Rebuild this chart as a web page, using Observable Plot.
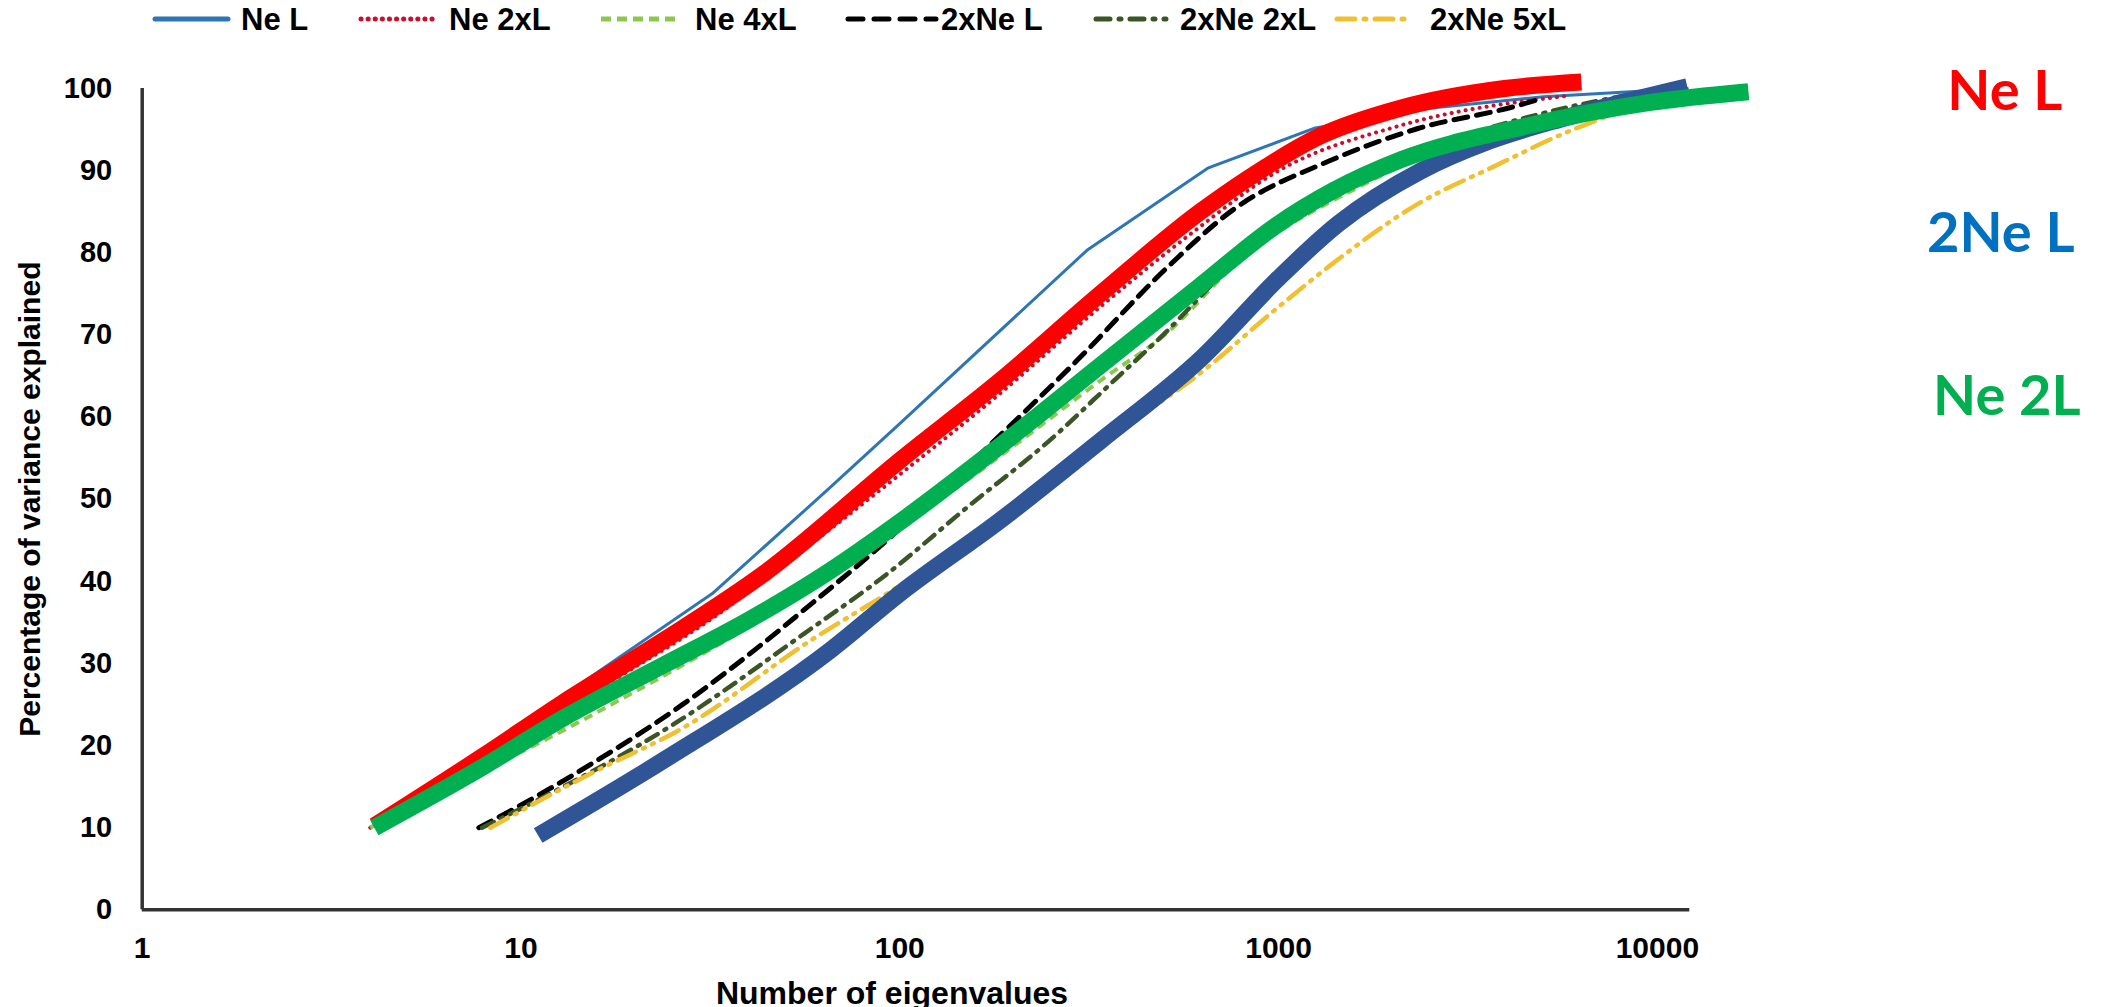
<!DOCTYPE html>
<html>
<head>
<meta charset="utf-8">
<script src="https://cdn.jsdelivr.net/npm/d3@7"></script>
<script src="https://cdn.jsdelivr.net/npm/@observablehq/plot@0.6"></script>
<style>
  html, body { margin: 0; padding: 0; background: #fff; }
  #legend { position: relative; width: 2103px; height: 40px; font-family: "Liberation Sans", Arial, sans-serif; font-weight: bold; font-size: 31px; color: #000; }
  .lg-line { position: absolute; top: 0; }
  .lg-text { position: absolute; top: 0; line-height: 40px; white-space: nowrap; }
  #chart svg { display: block; overflow: visible; }
</style>
</head>
<body>
<div id="legend"></div>
<div id="chart"></div>
<script>
// ---------------- DATA ----------------
const xTicks = [1, 10, 100, 1000, 10000];
const yTicks = [0, 10, 20, 30, 40, 50, 60, 70, 80, 90, 100];
const xLabel = "Number of eigenvalues";
const yLabel = "Percentage of variance explained";

// legend / thin series names
const seriesNames = ["Ne L", "Ne 2xL", "Ne 4xL", "2xNe L", "2xNe 2xL", "2xNe 5xL"];

// thin series: [number of eigenvalues, % variance explained]
const neL = [[4,10],[8,19.5],[16,29],[32,38.5],[64,51],[100,59.2],[312,80.3],[650,90.3],[1250,95.2],[2500,97.6],[5000,99],[12000,100]];
const ne2xL = [[4,10],[8,17.8],[16,26.8],[32,35.5],[64,46],[100,53],[180,62.5],[340,73.5],[594,82.5],[984,89.8],[2099,95.5],[5780,99.1]];
const ne4xL = [[4,10],[5.8,14.1],[10.6,19.8],[19.5,26.3],[40,34.5],[100,46.5],[200,56.5],[340,64.5],[500,70],[800,79.3],[1627,88],[3000,93.6],[5000,96.6],[8800,99.2]];
const x2NeL = [[7.74,10],[9.77,12.5],[15.9,18.2],[26.9,25.1],[42.9,32.2],[59.3,37.5],[82,42.9],[166.7,55.9],[294,66.9],[508,78.2],[762,85.3],[1364,91.2],[2322,95.1],[4266,97.9],[4800,98.6]];
const x2Ne2xL = [[7.9,10],[11,13.3],[25.3,22.6],[55.8,33.6],[92.6,40.9],[150.6,49],[248,57.1],[375,64.8],[488,69.7],[800,79.6],[1100,84.4],[1627,88.6],[3000,94],[5000,97],[8800,99.4]];
const x2Ne5xL = [[8.3,10],[15.3,16.6],[26.9,22.2],[58.2,32.8],[100,39.5],[184,48],[339,57],[600,64.8],[1000,73.4],[1364,78.4],[2383,86.2],[3663,90.4],[5780,94.7],[9000,98]];

// thick overlay curves and their labels
const overlayNames = ["Ne L", "2Ne L", "Ne 2L"];
const overlayNeL = [[4.1,10.2],[8,18.8],[12.9,25.2],[23.8,32.8],[43.7,40.9],[100,54.7],[184,64.4],[339,75],[622,85],[828,89],[1300,94.3],[2099,97.6],[3954,100],[6300,100.8]];
const overlay2NeL = [[11.1,9.05],[23.8,18.2],[65.6,31.6],[100,38.5],[184,47.4],[339,57.1],[630,67.3],[1000,76.9],[1435,83.5],[2383,90],[3600,93.6],[5780,96.5],[12000,100.2]];
const overlayNe2L = [[4.1,10],[8,17.5],[12.9,23.3],[23.8,29.8],[40,35.3],[65.6,41.3],[100,47.2],[184,56.5],[339,66.3],[622,76],[984,83.3],[1400,87.6],[2099,91.3],[4487,95.4],[9594,98.3],[17400,99.6]];

// ---------------- STYLES ----------------
const thinData = [neL, ne2xL, ne4xL, x2NeL, x2Ne2xL, x2Ne5xL];
const thinColors = ["#2E75B6", "#C8102E", "#8CC850", "#000000", "#3B5527", "#F0C030"];
const thinDash = [null, "0.1 7", "9 6", "14 9", "13 8 2 8", "20 8 2 8 2 8"];
const thinWidth = [3, 4, 4, 5, 4.5, 4.5];
const thinCap = ["round", "round", "butt", "round", "round", "round"];

const legendDash = [null, "0.1 7", "10 6", "15 11", "14 9 2 9", "18 9 2 9"];
const legendLineLeft = [152, 358, 601, 845, 1093, 1334];
const legendLineWidth = [79, 80, 80, 94, 76, 81];
const legendTextLeft = [241, 449, 695, 941, 1180, 1430];

const overlayData = [overlayNeL, overlay2NeL, overlayNe2L];
const overlayColors = ["#FF0000", "#2F5597", "#00B050"];
const overlayLabelColors = ["#FF0000", "#0070C0", "#00B050"];
const overlayLabelDx = [315, 311, 317];
const overlayLabelDy = [4, 146, 309];

// ---------------- LEGEND ----------------
const legend = document.getElementById("legend");
seriesNames.forEach((name, i) => {
  const w = legendLineWidth[i];
  const dash = legendDash[i] ? `stroke-dasharray="${legendDash[i]}"` : "";
  const cap = thinCap[i];
  const line = document.createElement("div");
  line.className = "lg-line";
  line.style.left = legendLineLeft[i] + "px";
  line.innerHTML = `<svg width="${w}" height="40"><line x1="${cap==="round"?3:0}" y1="19" x2="${w-(cap==="round"?3:0)}" y2="19" stroke="${thinColors[i]}" stroke-width="5" stroke-linecap="${cap}" ${dash}/></svg>`;
  legend.appendChild(line);
  const t = document.createElement("div");
  t.className = "lg-text";
  t.style.left = legendTextLeft[i] + "px";
  t.textContent = name;
  legend.appendChild(t);
});

// ---------------- PLOT ----------------
const font = "Liberation Sans, Arial, sans-serif";
const marks = [];

marks.push(Plot.ruleY([0], {stroke: "#333", strokeWidth: 3.5}));
marks.push(Plot.ruleX([1], {stroke: "#333", strokeWidth: 3.5}));

thinData.forEach((d, i) => {
  marks.push(Plot.line(d, {
    x: p => p[0], y: p => p[1],
    stroke: thinColors[i], strokeWidth: thinWidth[i],
    strokeDasharray: thinDash[i] || undefined,
    strokeLinecap: thinCap[i], strokeLinejoin: "round",
    curve: i === 0 ? "linear" : "monotone-x"
  }));
});

overlayData.forEach((d, i) => {
  marks.push(Plot.line(d, {
    x: p => p[0], y: p => p[1],
    stroke: overlayColors[i], strokeWidth: 17,
    strokeLinecap: "butt", strokeLinejoin: "round",
    curve: "monotone-x"
  }));
});

overlayNames.forEach((name, i) => {
  marks.push(Plot.text([name], {
    text: d => d, frameAnchor: "top-right",
    dx: overlayLabelDx[i], dy: overlayLabelDy[i],
    textAnchor: "middle", lineAnchor: "middle",
    fill: overlayLabelColors[i], fontSize: 56, fontWeight: "bold",
    fontFamily: "Lato, 'Open Sans', sans-serif"
  }));
});

marks.push(Plot.axisX({
  ticks: xTicks, tickFormat: d => String(d), tickSize: 0, tickPadding: 27,
  fontSize: 30, fontWeight: "bold", fontFamily: font, fill: "#000", label: null
}));
marks.push(Plot.axisY({
  ticks: yTicks, tickSize: 0, tickPadding: 30,
  fontSize: 29, fontWeight: "bold", fontFamily: font, fill: "#000", label: null
}));

marks.push(Plot.text([xLabel], {
  text: d => d, frameAnchor: "bottom", dx: -24, dy: 84,
  lineAnchor: "middle", fontSize: 32, fontWeight: "bold", fontFamily: font, fill: "#000"
}));
marks.push(Plot.text([yLabel], {
  text: d => d, frameAnchor: "left", dx: -112, rotate: -90,
  lineAnchor: "middle", textAnchor: "middle", fontSize: 30, fontWeight: "bold", fontFamily: font, fill: "#000"
}));

const chart = Plot.plot({
  width: 2103, height: 967,
  marginLeft: 141.7, marginRight: 413.7, marginTop: 48, marginBottom: 97.7,
  x: {type: "log", domain: [1, 12180], axis: null},
  y: {domain: [0, 100], axis: null},
  style: {background: "#fff", color: "#000", fontFamily: font, overflow: "visible"},
  marks
});
document.getElementById("chart").appendChild(chart);
</script>
</body>
</html>
